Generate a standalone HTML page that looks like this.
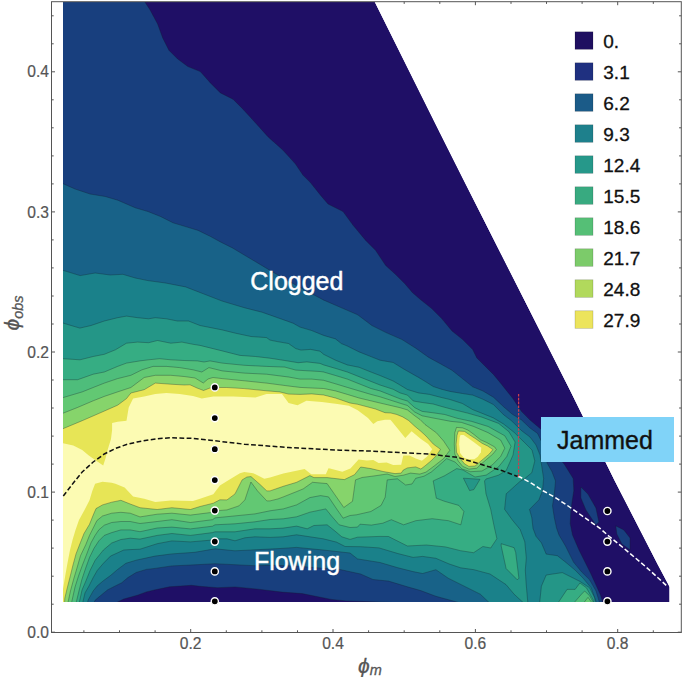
<!DOCTYPE html>
<html><head><meta charset="utf-8"><style>
html,body{margin:0;padding:0;background:#fff;}
svg{display:block;}
text{font-family:"Liberation Sans",sans-serif;}
</style></head><body>
<svg width="685" height="677" viewBox="0 0 685 677">
<rect width="685" height="677" fill="#fff"/>
<clipPath id="dc"><polygon points="63.0,2.0 374.8,2.0 440.0,133.1 463.6,180.0 570.0,390.3 614.3,480.0 658.0,565.0 669.0,585.7 669.5,587.0 669.5,602.0 63.0,602.0"/></clipPath>
<g clip-path="url(#dc)">
<polygon points="63.0,2.0 374.8,2.0 440.0,133.1 463.6,180.0 570.0,390.3 614.3,480.0 658.0,565.0 669.0,585.7 669.5,587.0 669.5,602.0 63.0,602.0" fill="#1f0f66"/>
<polygon points="57.0,-4.0 144.6,-4.0 141.0,-4.0 150.1,10.0 157.6,23.9 162.6,37.7 168.9,50.2 177.7,59.0 187.8,66.5 200.3,71.6 210.4,82.9 220.4,92.9 233.0,99.2 243.0,109.2 255.6,123.0 268.1,136.9 282.8,150.0 295.3,163.8 302.9,175.1 310.4,182.6 320.5,195.2 328.0,204.0 343.0,211.5 353.1,225.3 365.7,240.4 375.7,250.5 385.7,265.5 395.1,274.0 405.1,284.0 412.6,292.8 421.0,300.0 431.4,308.3 441.7,318.6 452.0,331.0 462.4,339.3 472.7,349.6 476.8,357.9 485.1,366.2 493.4,374.4 500.9,383.5 512.7,398.3 521.6,411.6 530.0,420.0 541.9,430.0 550.0,445.0 558.0,458.0 563.7,463.3 569.6,472.7 573.2,478.6 573.8,490.5 572.0,502.3 570.8,511.7 570.2,523.5 572.5,535.0 579.0,550.0 585.0,562.0 590.5,573.0 596.0,585.0 600.5,595.0 604.2,607.0 602.5,607.0 363.5,607.0 523.9,607.0 346.0,600.9 331.4,599.4 316.8,596.5 302.2,593.6 281.8,592.1 258.4,589.2 235.0,586.9 217.5,587.7 200.0,586.3 191.4,585.3 169.5,586.8 154.2,590.0 146.3,591.9 138.1,595.0 131.0,597.0 123.8,599.0 107.5,607.0 118.7,607.0 57.0,607.0" fill="#183f7e" stroke="rgba(20,30,40,0.45)" stroke-width="0.7" stroke-linejoin="round"/>
<polygon points="580.9,487.0 587.9,494.0 595.9,507.9 598.9,521.9 595.9,524.9 585.9,509.9 580.9,497.9" fill="#183f7e" stroke="rgba(20,30,40,0.45)" stroke-width="0.7" stroke-linejoin="round"/>
<polygon points="615.8,525.9 623.8,529.9 630.0,537.9 630.0,549.8 621.8,543.9 616.8,533.9" fill="#183f7e" stroke="rgba(20,30,40,0.45)" stroke-width="0.7" stroke-linejoin="round"/>
<polygon points="57.0,183.9 57.0,181.0 75.0,189.0 90.1,194.0 105.2,196.5 117.8,200.2 135.3,207.8 147.9,211.5 160.5,216.5 173.0,222.8 185.6,226.6 198.1,230.4 210.7,236.6 220.0,241.7 232.6,248.0 245.1,255.5 257.7,263.0 270.2,270.5 285.0,279.0 302.9,289.0 323.9,300.2 344.5,309.1 357.7,314.8 371.9,325.5 386.1,332.6 402.1,339.6 416.2,348.5 428.7,357.4 441.7,364.5 452.0,370.3 462.4,378.6 472.7,386.8 483.0,391.0 493.4,397.2 503.9,407.0 512.0,414.0 521.6,420.0 530.0,428.0 537.5,433.4 541.9,442.3 545.0,455.0 547.2,463.3 551.9,471.5 555.5,481.0 554.3,494.0 552.5,505.8 554.3,517.6 556.6,528.3 559.0,535.0 565.5,546.0 573.5,562.1 581.5,571.8 589.6,579.8 596.0,591.0 600.9,607.0 599.2,607.0 454.9,607.0 475.0,607.0 435.9,596.3 420.7,590.6 407.4,586.8 388.5,581.1 373.0,579.5 360.6,574.0 340.0,569.5 320.0,568.0 295.0,566.0 274.8,565.3 254.9,565.7 234.9,564.7 215.0,563.7 194.8,564.8 171.9,565.9 155.0,568.4 146.3,569.4 136.1,572.5 127.9,577.6 121.8,582.7 113.6,586.8 107.5,589.9 101.3,595.0 95.2,600.1 91.7,607.0 94.5,607.0 57.0,607.0" fill="#186288" stroke="rgba(20,30,40,0.45)" stroke-width="0.7" stroke-linejoin="round"/>
<polygon points="57.0,270.5 57.0,268.5 80.1,275.6 95.2,273.0 110.2,275.0 122.8,274.3 135.3,278.0 147.9,280.6 165.5,283.0 185.6,286.9 200.0,292.5 222.2,301.1 244.3,307.7 262.0,312.2 277.6,317.7 293.1,323.2 300.0,327.1 311.8,330.6 323.6,335.4 335.5,338.9 341.4,343.6 347.3,346.0 359.1,351.9 370.9,356.6 380.0,360.2 393.2,362.5 403.7,369.0 418.5,377.4 425.8,381.8 433.2,386.5 441.4,389.2 450.0,391.4 462.4,393.5 472.7,395.1 483.0,399.3 493.4,404.5 503.9,415.0 511.2,420.5 522.0,431.0 530.0,437.0 536.0,445.0 540.0,455.0 541.3,463.3 543.6,478.6 542.5,490.5 538.9,499.9 529.5,509.4 531.8,517.6 533.0,528.3 536.0,536.3 541.4,542.8 546.2,554.1 557.4,555.7 565.5,562.1 575.1,570.1 583.1,578.2 591.2,587.8 597.9,607.0 596.0,607.0 488.0,607.0 493.8,607.0 480.3,594.2 465.7,586.9 448.2,578.2 435.9,569.7 422.6,573.5 413.1,571.6 398.0,567.8 380.0,562.5 357.5,558.9 350.0,553.0 323.2,550.0 296.6,547.4 280.0,548.5 274.8,548.8 254.9,549.8 234.9,550.8 215.0,548.8 194.8,552.3 171.9,553.9 155.0,556.1 136.1,560.2 125.9,563.3 117.7,569.4 110.5,575.5 103.4,580.7 97.3,585.8 93.2,590.9 88.1,600.1 86.6,607.0 87.8,607.0 57.0,607.0" fill="#1a818a" stroke="rgba(20,30,40,0.45)" stroke-width="0.7" stroke-linejoin="round"/>
<polygon points="57.0,323.2 57.0,321.2 71.1,325.5 79.9,328.1 91.0,325.5 104.3,321.0 117.6,317.7 126.5,316.1 137.6,317.7 148.6,318.8 155.3,317.7 166.4,318.8 177.4,321.0 188.5,321.0 200.0,325.5 222.2,329.9 235.5,333.2 251.0,336.5 266.5,337.6 270.0,340.1 277.4,341.6 288.5,343.5 295.8,348.6 301.0,350.1 310.6,349.4 320.0,351.2 323.6,354.3 335.5,360.2 347.3,364.9 359.1,367.3 370.9,372.0 380.0,375.5 393.2,381.0 400.0,385.0 407.4,389.5 418.5,392.9 429.5,394.4 440.6,397.3 450.0,399.5 462.4,403.5 472.7,409.6 483.0,413.7 493.4,417.9 503.7,424.1 514.1,432.3 524.0,442.0 532.0,450.0 534.8,460.9 531.8,472.7 524.7,478.6 520.0,481.4 506.2,493.8 504.6,509.3 512.4,520.1 520.1,529.4 524.8,541.8 526.3,558.0 525.3,570.1 526.1,583.0 528.2,607.0 527.7,607.0 522.0,607.0 528.0,607.0 514.1,594.2 506.0,584.6 490.0,574.0 473.9,569.7 460.6,567.8 449.2,564.0 435.9,558.3 422.6,556.4 413.1,557.4 398.0,553.6 379.0,547.9 360.6,546.7 345.1,546.5 336.4,542.1 323.2,538.8 309.9,536.8 296.6,534.8 283.3,536.8 270.0,537.4 254.9,536.8 244.9,537.8 235.0,540.8 227.0,538.8 215.0,538.8 212.5,540.0 190.4,541.9 171.9,540.9 157.2,543.7 140.0,549.2 130.2,549.6 123.8,550.0 110.5,556.1 103.4,563.3 97.3,570.4 93.2,577.6 89.1,585.8 85.0,592.9 81.7,607.0 83.0,607.0 57.0,607.0" fill="#249687" stroke="rgba(20,30,40,0.45)" stroke-width="0.7" stroke-linejoin="round"/>
<polygon points="539.8,607.0 539.2,607.0 541.4,586.2 546.2,575.0 562.3,572.6 573.5,578.2 579.9,581.4 589.6,587.8 594.4,597.4 596.3,607.0 595.2,607.0" fill="#249687" stroke="rgba(20,30,40,0.45)" stroke-width="0.7" stroke-linejoin="round"/>
<polygon points="57.0,358.7 57.0,358.3 80.0,359.8 93.2,356.5 104.3,354.3 115.4,349.8 126.5,343.2 137.6,342.1 148.6,342.7 157.5,340.5 170.8,343.2 181.9,342.1 193.0,344.3 200.0,345.4 222.2,350.9 239.9,355.4 255.4,356.5 270.0,358.2 284.8,360.5 298.1,362.7 306.9,361.9 320.0,363.4 323.6,364.9 335.5,368.4 347.3,372.0 359.1,376.7 370.9,381.4 380.0,385.0 393.2,389.3 400.0,392.9 407.4,395.1 413.3,401.0 422.2,402.5 433.2,404.0 440.6,406.2 451.0,409.0 467.6,413.1 482.0,417.2 498.6,423.4 508.9,431.7 515.1,442.0 513.0,455.0 506.2,470.5 498.4,475.2 486.0,479.0 484.5,481.0 486.0,493.8 490.7,509.3 493.8,524.8 496.9,538.7 490.7,548.0 482.9,546.5 473.6,552.7 460.6,550.7 445.4,546.9 426.4,545.0 407.4,546.0 388.5,536.5 380.0,536.4 357.5,537.2 350.0,539.4 341.8,536.8 333.8,530.1 327.1,524.8 313.9,525.5 307.2,528.8 296.6,526.1 283.3,528.1 270.0,528.8 254.9,528.8 235.0,531.8 215.0,531.8 212.5,532.6 190.4,535.4 171.9,533.5 157.2,535.4 140.0,539.1 130.2,538.2 120.9,539.5 111.7,543.0 103.4,550.0 95.2,560.2 90.1,570.4 86.0,580.7 82.0,590.0 78.3,607.0 79.5,607.0 57.0,607.0" fill="#36ad83" stroke="rgba(20,30,40,0.45)" stroke-width="0.7" stroke-linejoin="round"/>
<polygon points="559.0,607.0 555.3,607.0 567.1,589.4 575.1,589.4 579.9,583.0 586.4,587.8 592.8,599.1 595.1,607.0 593.5,607.0" fill="#36ad83" stroke="rgba(20,30,40,0.45)" stroke-width="0.7" stroke-linejoin="round"/>
<polygon points="501.2,543.7 514.1,547.7 515.7,552.5 518.9,578.2 517.3,579.8 506.1,568.5 501.2,546.0" fill="#36ad83" stroke="rgba(20,30,40,0.45)" stroke-width="0.7" stroke-linejoin="round"/>
<polygon points="463.4,478.2 480.0,479.3 473.8,489.6 469.6,490.6" fill="#249687" stroke="rgba(20,30,40,0.45)" stroke-width="0.7" stroke-linejoin="round"/>
<polygon points="57.0,379.7 77.7,379.7 93.2,374.2 104.3,372.0 117.6,366.4 126.5,363.1 139.8,360.9 148.6,359.8 159.7,358.7 170.8,359.8 184.1,360.5 197.4,360.9 204.0,362.0 210.0,360.9 222.2,363.1 244.3,365.3 266.5,366.4 284.8,367.1 295.8,370.1 320.0,371.5 323.6,372.0 335.5,375.5 347.3,379.1 359.1,383.8 370.9,388.5 380.0,390.9 400.0,398.8 407.4,401.0 414.8,407.7 422.2,411.4 433.2,412.8 444.8,414.5 457.2,418.3 471.7,421.4 488.2,426.5 504.8,435.8 511.0,446.2 506.8,456.5 498.6,466.8 486.2,475.1 475.0,477.0 463.0,470.0 456.7,468.6 444.5,475.8 433.2,480.9 436.3,498.2 444.5,501.3 458.8,505.4 463.9,511.5 460.8,524.8 448.5,520.7 432.2,518.7 415.8,520.7 403.6,524.8 391.3,519.7 382.8,523.2 371.4,525.1 360.0,524.2 357.5,527.1 350.0,527.5 339.1,524.8 331.1,515.5 325.8,508.9 309.9,512.2 296.6,516.8 283.3,518.8 270.0,519.5 254.9,521.8 235.0,523.8 215.0,524.8 212.5,526.2 190.4,528.9 171.9,527.1 157.2,528.0 140.0,531.7 130.2,529.9 120.9,529.9 111.7,532.6 104.3,535.4 98.8,540.9 94.0,548.3 89.5,557.5 85.5,568.6 81.8,579.7 79.0,590.8 75.1,607.0 76.4,607.0 57.0,607.0" fill="#4ebd7b" stroke="rgba(20,30,40,0.45)" stroke-width="0.7" stroke-linejoin="round"/>
<polygon points="575.1,607.0 570.3,607.0 581.5,594.2 584.7,591.0 589.6,595.8 595.9,607.0 592.8,607.0" fill="#4ebd7b" stroke="rgba(20,30,40,0.45)" stroke-width="0.7" stroke-linejoin="round"/>
<polygon points="57.0,397.5 57.0,399.4 82.2,391.9 93.2,387.5 104.3,383.1 117.6,378.6 130.9,375.3 142.0,369.8 153.1,366.4 166.4,366.4 179.7,367.6 193.0,369.8 201.8,372.0 208.9,367.6 222.2,370.9 244.3,373.1 266.5,374.2 288.6,377.0 300.0,379.1 311.8,379.1 323.6,380.3 335.5,383.8 347.3,387.4 359.1,390.9 370.9,394.4 380.0,396.8 400.0,403.2 407.4,405.5 414.8,412.1 422.2,415.8 433.2,418.0 451.0,421.4 461.4,422.4 473.8,426.5 488.2,432.7 500.6,440.0 504.8,448.2 500.6,456.5 492.4,464.8 482.0,471.0 470.7,471.7 462.0,469.0 455.0,462.0 446.7,458.6 438.4,465.9 431.2,472.1 424.0,476.2 415.7,478.3 412.0,484.0 405.6,485.0 397.4,478.8 387.2,479.9 385.2,497.2 381.1,505.4 370.9,511.5 356.5,514.8 350.0,515.5 343.1,518.2 336.0,508.0 328.5,496.9 320.5,495.6 309.9,497.6 296.6,504.9 283.3,508.9 270.0,510.8 254.9,513.9 235.0,515.9 215.0,517.9 212.5,519.7 190.4,522.5 171.9,519.7 157.2,521.5 140.0,523.5 130.2,521.5 120.9,521.5 111.7,522.5 104.3,525.2 98.8,529.9 95.1,535.4 91.0,542.8 86.8,553.9 82.5,564.9 78.5,576.0 75.0,587.1 70.6,607.0 71.8,607.0 57.0,607.0" fill="#62c873" stroke="rgba(20,30,40,0.45)" stroke-width="0.7" stroke-linejoin="round"/>
<polygon points="584.7,607.0 580.3,607.0 588.0,597.4 595.0,607.0 591.0,607.0" fill="#62c873" stroke="rgba(20,30,40,0.45)" stroke-width="0.7" stroke-linejoin="round"/>
<polygon points="57.0,413.0 57.0,415.6 77.7,407.4 93.2,400.8 104.3,396.4 117.6,391.9 130.9,387.5 144.2,377.5 155.3,375.3 170.8,375.3 184.1,376.5 195.0,378.0 203.3,383.0 208.0,379.0 213.0,377.5 222.2,378.6 244.3,380.8 266.5,383.1 288.6,386.0 300.0,387.4 311.8,388.0 323.6,388.5 335.5,390.9 347.3,394.4 359.1,398.0 380.0,403.0 400.0,407.7 407.4,409.9 414.8,415.8 420.0,419.5 425.0,424.5 436.4,432.8 443.6,441.0 449.8,450.3 443.6,458.6 434.3,465.9 426.0,472.1 419.8,474.1 410.5,473.1 403.3,475.2 395.0,476.5 387.2,474.0 375.0,475.8 362.0,477.5 355.5,479.9 352.5,501.3 343.8,507.5 336.4,496.9 327.1,483.6 312.5,482.3 303.2,488.9 296.6,491.6 283.3,496.9 278.0,498.9 270.0,500.9 266.8,500.9 257.6,491.0 250.9,482.0 244.9,499.9 238.9,505.9 227.0,509.9 215.0,510.9 212.5,512.3 190.4,515.1 171.9,513.2 157.2,514.2 140.0,516.9 130.2,513.2 120.9,512.3 111.7,513.2 102.5,516.0 96.9,520.6 93.2,528.0 89.5,535.4 85.8,544.6 80.5,555.7 76.8,568.6 73.5,579.7 70.5,590.8 67.0,607.0 68.2,607.0 57.0,607.0" fill="#86d46b" stroke="rgba(20,30,40,0.45)" stroke-width="0.7" stroke-linejoin="round"/>
<polygon points="456.5,427.4 462.7,427.9 468.0,430.1 474.0,434.5 480.5,439.8 486.7,442.5 494.6,446.9 496.4,449.6 492.9,454.0 486.7,459.3 480.5,464.6 476.9,468.2 468.9,469.1 462.7,466.4 458.3,461.1 454.8,454.0 454.3,444.3 454.8,432.7" fill="#86d46b" stroke="rgba(20,30,40,0.45)" stroke-width="0.7" stroke-linejoin="round"/>
<polygon points="57.0,428.5 57.0,431.2 82.2,420.7 99.9,413.0 117.6,405.2 126.5,398.6 130.9,393.0 144.2,389.7 155.3,383.1 170.8,384.2 184.1,385.0 190.0,384.8 197.0,388.0 203.5,390.5 210.0,388.0 215.0,387.5 226.6,387.5 244.3,388.6 266.5,390.8 279.8,391.9 288.6,394.1 300.0,394.4 311.8,393.9 323.6,395.0 335.5,398.0 350.0,403.0 357.7,404.3 375.5,409.0 385.0,412.7 390.9,413.0 396.8,414.5 402.7,416.9 408.6,420.5 414.5,426.0 420.5,431.0 426.0,436.0 433.3,444.1 440.5,449.3 440.5,449.3 436.4,455.5 431.2,460.7 425.0,465.9 420.9,469.0 415.7,466.9 407.4,467.9 403.3,470.0 401.2,473.1 395.0,473.6 383.1,471.5 370.9,468.6 360.7,467.0 354.5,474.7 344.4,479.6 327.1,477.6 313.9,477.6 309.9,475.6 296.6,482.3 283.3,486.3 270.0,490.9 266.8,490.9 259.8,484.3 251.0,476.6 246.9,477.0 242.1,479.9 235.0,493.9 227.0,499.9 219.9,499.8 213.3,503.2 200.0,506.5 190.4,509.5 171.9,507.7 157.2,509.5 140.0,507.7 130.2,504.0 120.9,500.3 111.7,502.2 102.5,504.9 96.0,508.6 93.2,515.1 89.5,524.3 84.0,533.5 80.3,542.8 76.0,553.9 73.0,564.9 69.8,577.9 67.0,588.9 64.8,598.2 64.3,607.0 64.6,607.0 57.0,607.0" fill="#e7e556" stroke="rgba(20,30,40,0.45)" stroke-width="0.7" stroke-linejoin="round"/>
<polygon points="458.3,431.0 464.5,431.4 469.8,435.0 476.0,439.0 482.2,443.4 487.6,446.0 492.9,449.6 489.3,454.0 484.0,458.4 478.7,462.9 475.1,466.0 468.9,466.4 464.5,463.8 460.1,458.4 456.5,452.2 456.1,444.3 457.0,435.4" fill="#e7e556" stroke="rgba(20,30,40,0.45)" stroke-width="0.7" stroke-linejoin="round"/>
<polygon points="57.0,443.3 57.0,441.8 73.3,445.5 82.2,450.0 88.8,455.5 96.6,461.0 103.2,465.5 105.4,458.8 107.6,450.0 111.0,438.9 112.1,430.0 112.1,423.0 117.6,421.8 126.5,420.7 128.7,407.4 133.1,398.6 144.2,396.4 155.3,394.1 166.4,393.0 179.7,394.1 193.0,395.9 201.8,398.6 213.3,396.4 233.2,396.4 255.4,397.5 266.5,394.1 282.0,394.1 288.6,403.0 297.5,405.2 306.4,400.8 321.9,401.9 337.4,404.1 348.9,405.8 357.7,410.2 368.0,418.0 373.3,424.0 377.3,421.3 385.0,419.8 390.3,419.8 391.5,421.0 397.2,428.0 405.3,437.9 411.6,431.2 420.9,439.0 428.1,444.1 432.2,449.3 427.1,456.6 421.9,460.7 415.7,458.6 409.5,455.5 403.3,455.5 401.2,464.8 393.2,465.0 386.6,462.5 378.6,463.0 373.3,460.0 366.8,460.5 358.6,459.4 350.4,468.6 342.3,471.7 330.0,468.6 328.5,468.3 325.8,474.3 311.2,474.3 304.6,469.0 283.3,473.6 270.0,477.6 264.3,478.8 253.2,473.2 244.3,472.1 239.9,473.2 228.8,479.9 219.9,485.4 213.3,494.3 200.0,498.7 193.0,500.9 170.8,500.5 155.3,502.0 144.2,498.7 133.1,496.5 124.6,487.4 115.4,483.7 111.7,482.8 102.5,481.8 95.1,483.7 92.3,491.1 89.5,500.3 84.5,510.0 79.0,520.0 75.5,530.0 72.5,540.0 70.0,550.0 67.5,563.0 65.2,576.0 57.0,624.2 57.0,586.0" fill="#fcfbb3" stroke="none" stroke-width="0.7" stroke-linejoin="round"/>
<polygon points="460.5,435.0 463.6,435.0 468.0,438.0 474.3,442.5 481.3,447.8 480.9,452.2 477.8,456.7 474.3,459.3 468.0,459.3 463.6,457.6 460.1,453.1 459.2,444.3 459.6,438.0" fill="#fcfbb3" stroke="none" stroke-width="0.7" stroke-linejoin="round"/>
</g>
<path d="M63.3,496.0 L73.3,483.0 L82.2,472.0 L93.2,462.0 L104.3,454.0 L115.4,448.5 L126.5,444.5 L137.0,442.0 L148.6,440.0 L160.0,438.5 L170.8,437.8 L193.0,438.4 L210.0,440.2 L244.3,444.2 L288.6,447.5 L340.0,450.2 L369.5,451.0 L399.1,452.5 L428.6,454.0 L458.2,457.5 L472.9,461.9 L487.7,466.4 L502.5,470.8 L517.8,476.5" fill="none" stroke="#111" stroke-width="1.5" stroke-dasharray="4.8,2.4"/>
<path d="M517.8,476.5 L520.0,477.0 L531.7,483.4 L543.4,491.0 L555.0,497.4 L566.7,505.0 L578.4,513.2 L590.0,521.4 L600.0,528.4 L609.3,536.5 L621.7,546.5 L634.1,556.9 L646.0,567.0 L656.0,576.0 L667.5,586.5" fill="none" stroke="#fff" stroke-width="1.5" stroke-dasharray="4.8,2.4"/>
<line x1="518.6" y1="394" x2="518.6" y2="476.5" stroke="#cc3e4c" stroke-width="1.25" stroke-dasharray="2.6,1.2"/>
<circle cx="214.8" cy="601.3" r="3.6" fill="#000" stroke="#fff" stroke-width="1.4"/><circle cx="214.8" cy="571.4" r="3.6" fill="#000" stroke="#fff" stroke-width="1.4"/><circle cx="214.8" cy="541.6" r="3.6" fill="#000" stroke="#fff" stroke-width="1.4"/><circle cx="214.8" cy="510.6" r="3.6" fill="#000" stroke="#fff" stroke-width="1.4"/><circle cx="214.8" cy="480.1" r="3.6" fill="#000" stroke="#fff" stroke-width="1.4"/><circle cx="214.8" cy="449.2" r="3.6" fill="#000" stroke="#fff" stroke-width="1.4"/><circle cx="214.8" cy="418.1" r="3.6" fill="#000" stroke="#fff" stroke-width="1.4"/><circle cx="214.8" cy="387.4" r="3.6" fill="#000" stroke="#fff" stroke-width="1.4"/><circle cx="607.4" cy="601.3" r="3.6" fill="#000" stroke="#fff" stroke-width="1.4"/><circle cx="607.4" cy="571.4" r="3.6" fill="#000" stroke="#fff" stroke-width="1.4"/><circle cx="607.4" cy="541.6" r="3.6" fill="#000" stroke="#fff" stroke-width="1.4"/><circle cx="607.4" cy="511.0" r="3.6" fill="#000" stroke="#fff" stroke-width="1.4"/>
<g stroke="#555" stroke-width="1" fill="none">
<rect x="51.5" y="1.7" width="629.8" height="630.8"/>
<line x1="83.9" y1="632.5" x2="83.9" y2="630.3"/>
<line x1="119.5" y1="632.5" x2="119.5" y2="630.3"/>
<line x1="155.1" y1="632.5" x2="155.1" y2="630.3"/>
<line x1="190.7" y1="632.5" x2="190.7" y2="629.0"/>
<line x1="226.3" y1="632.5" x2="226.3" y2="630.3"/>
<line x1="261.9" y1="632.5" x2="261.9" y2="630.3"/>
<line x1="297.5" y1="632.5" x2="297.5" y2="630.3"/>
<line x1="333.0" y1="632.5" x2="333.0" y2="629.0"/>
<line x1="368.6" y1="632.5" x2="368.6" y2="630.3"/>
<line x1="404.2" y1="632.5" x2="404.2" y2="630.3"/>
<line x1="404.2" y1="1.7" x2="404.2" y2="3.9"/>
<line x1="439.8" y1="632.5" x2="439.8" y2="630.3"/>
<line x1="439.8" y1="1.7" x2="439.8" y2="3.9"/>
<line x1="475.4" y1="632.5" x2="475.4" y2="629.0"/>
<line x1="475.4" y1="1.7" x2="475.4" y2="5.2"/>
<line x1="511.0" y1="632.5" x2="511.0" y2="630.3"/>
<line x1="511.0" y1="1.7" x2="511.0" y2="3.9"/>
<line x1="546.5" y1="632.5" x2="546.5" y2="630.3"/>
<line x1="546.5" y1="1.7" x2="546.5" y2="3.9"/>
<line x1="582.1" y1="632.5" x2="582.1" y2="630.3"/>
<line x1="582.1" y1="1.7" x2="582.1" y2="3.9"/>
<line x1="617.7" y1="632.5" x2="617.7" y2="629.0"/>
<line x1="617.7" y1="1.7" x2="617.7" y2="5.2"/>
<line x1="653.3" y1="632.5" x2="653.3" y2="630.3"/>
<line x1="653.3" y1="1.7" x2="653.3" y2="3.9"/>
<line x1="51.5" y1="632.2" x2="55.0" y2="632.2"/>
<line x1="681.3" y1="632.2" x2="677.8" y2="632.2"/>
<line x1="51.5" y1="604.2" x2="53.7" y2="604.2"/>
<line x1="681.3" y1="604.2" x2="679.1" y2="604.2"/>
<line x1="51.5" y1="576.2" x2="53.7" y2="576.2"/>
<line x1="681.3" y1="576.2" x2="679.1" y2="576.2"/>
<line x1="51.5" y1="548.1" x2="53.7" y2="548.1"/>
<line x1="681.3" y1="548.1" x2="679.1" y2="548.1"/>
<line x1="51.5" y1="520.1" x2="53.7" y2="520.1"/>
<line x1="681.3" y1="520.1" x2="679.1" y2="520.1"/>
<line x1="51.5" y1="492.1" x2="55.0" y2="492.1"/>
<line x1="681.3" y1="492.1" x2="677.8" y2="492.1"/>
<line x1="51.5" y1="464.1" x2="53.7" y2="464.1"/>
<line x1="681.3" y1="464.1" x2="679.1" y2="464.1"/>
<line x1="51.5" y1="436.1" x2="53.7" y2="436.1"/>
<line x1="681.3" y1="436.1" x2="679.1" y2="436.1"/>
<line x1="51.5" y1="408.0" x2="53.7" y2="408.0"/>
<line x1="681.3" y1="408.0" x2="679.1" y2="408.0"/>
<line x1="51.5" y1="380.0" x2="53.7" y2="380.0"/>
<line x1="681.3" y1="380.0" x2="679.1" y2="380.0"/>
<line x1="51.5" y1="352.0" x2="55.0" y2="352.0"/>
<line x1="681.3" y1="352.0" x2="677.8" y2="352.0"/>
<line x1="51.5" y1="324.0" x2="53.7" y2="324.0"/>
<line x1="681.3" y1="324.0" x2="679.1" y2="324.0"/>
<line x1="51.5" y1="296.0" x2="53.7" y2="296.0"/>
<line x1="681.3" y1="296.0" x2="679.1" y2="296.0"/>
<line x1="51.5" y1="267.9" x2="53.7" y2="267.9"/>
<line x1="681.3" y1="267.9" x2="679.1" y2="267.9"/>
<line x1="51.5" y1="239.9" x2="53.7" y2="239.9"/>
<line x1="681.3" y1="239.9" x2="679.1" y2="239.9"/>
<line x1="51.5" y1="211.9" x2="55.0" y2="211.9"/>
<line x1="681.3" y1="211.9" x2="677.8" y2="211.9"/>
<line x1="51.5" y1="183.9" x2="53.7" y2="183.9"/>
<line x1="681.3" y1="183.9" x2="679.1" y2="183.9"/>
<line x1="51.5" y1="155.9" x2="53.7" y2="155.9"/>
<line x1="681.3" y1="155.9" x2="679.1" y2="155.9"/>
<line x1="51.5" y1="127.8" x2="53.7" y2="127.8"/>
<line x1="681.3" y1="127.8" x2="679.1" y2="127.8"/>
<line x1="51.5" y1="99.8" x2="53.7" y2="99.8"/>
<line x1="681.3" y1="99.8" x2="679.1" y2="99.8"/>
<line x1="51.5" y1="71.8" x2="55.0" y2="71.8"/>
<line x1="681.3" y1="71.8" x2="677.8" y2="71.8"/>
<line x1="51.5" y1="43.8" x2="53.7" y2="43.8"/>
<line x1="681.3" y1="43.8" x2="679.1" y2="43.8"/>
<line x1="51.5" y1="15.8" x2="53.7" y2="15.8"/>
<line x1="681.3" y1="15.8" x2="679.1" y2="15.8"/>
</g>
<g font-size="15.6" fill="#555" stroke="#555" stroke-width="0.2"><text x="49" y="637.8" text-anchor="end">0.0</text>
<text x="49" y="497.7" text-anchor="end">0.1</text>
<text x="49" y="357.6" text-anchor="end">0.2</text>
<text x="49" y="217.5" text-anchor="end">0.3</text>
<text x="49" y="77.4" text-anchor="end">0.4</text>
<text x="190.7" y="648.6" text-anchor="middle">0.2</text>
<text x="333.0" y="648.6" text-anchor="middle">0.4</text>
<text x="475.4" y="648.6" text-anchor="middle">0.6</text>
<text x="617.7" y="648.6" text-anchor="middle">0.8</text></g>
<g font-size="19" fill="#111" stroke="#111" stroke-width="0.3"><rect x="575" y="31.8" width="18" height="17.5" fill="#1f0f60" stroke="rgba(0,0,0,0.25)" stroke-width="0.6"/>
<text x="603.3" y="47.8">0.</text>
<rect x="575" y="62.8" width="18" height="17.5" fill="#1f3080" stroke="rgba(0,0,0,0.25)" stroke-width="0.6"/>
<text x="603.3" y="78.8">3.1</text>
<rect x="575" y="93.8" width="18" height="17.5" fill="#1b5b88" stroke="rgba(0,0,0,0.25)" stroke-width="0.6"/>
<text x="603.3" y="109.8">6.2</text>
<rect x="575" y="124.8" width="18" height="17.5" fill="#1e808c" stroke="rgba(0,0,0,0.25)" stroke-width="0.6"/>
<text x="603.3" y="140.8">9.3</text>
<rect x="575" y="155.8" width="18" height="17.5" fill="#26988a" stroke="rgba(0,0,0,0.25)" stroke-width="0.6"/>
<text x="603.3" y="171.8">12.4</text>
<rect x="575" y="186.8" width="18" height="17.5" fill="#38aa80" stroke="rgba(0,0,0,0.25)" stroke-width="0.6"/>
<text x="603.3" y="202.8">15.5</text>
<rect x="575" y="217.8" width="18" height="17.5" fill="#55bf76" stroke="rgba(0,0,0,0.25)" stroke-width="0.6"/>
<text x="603.3" y="233.8">18.6</text>
<rect x="575" y="248.8" width="18" height="17.5" fill="#7ccb6a" stroke="rgba(0,0,0,0.25)" stroke-width="0.6"/>
<text x="603.3" y="264.8">21.7</text>
<rect x="575" y="279.8" width="18" height="17.5" fill="#b1d95c" stroke="rgba(0,0,0,0.25)" stroke-width="0.6"/>
<text x="603.3" y="295.8">24.8</text>
<rect x="575" y="310.8" width="18" height="17.5" fill="#ece45c" stroke="rgba(0,0,0,0.25)" stroke-width="0.6"/>
<text x="603.3" y="326.8">27.9</text></g>
<text x="250.3" y="290" font-size="25" fill="#fff" stroke="#fff" stroke-width="0.45">Clogged</text>
<text x="253.9" y="570.2" font-size="25" fill="#fff" stroke="#fff" stroke-width="0.45">Flowing</text>
<rect x="541" y="417" width="133" height="45" fill="#80d3f8"/>
<text x="557" y="449.3" font-size="25" fill="#111" stroke="#111" stroke-width="0.35">Jammed</text>
<text transform="translate(19,330.5) rotate(-90)" font-size="21" fill="#555" stroke="#555" stroke-width="0.3" font-style="italic">&#x3d5;<tspan font-size="14.5" dy="4">obs</tspan></text>
<text x="358" y="672.8" font-size="21" fill="#555" stroke="#555" stroke-width="0.3" font-style="italic">&#x3d5;<tspan font-size="14.5" dy="2">m</tspan></text>
</svg>
</body></html>
